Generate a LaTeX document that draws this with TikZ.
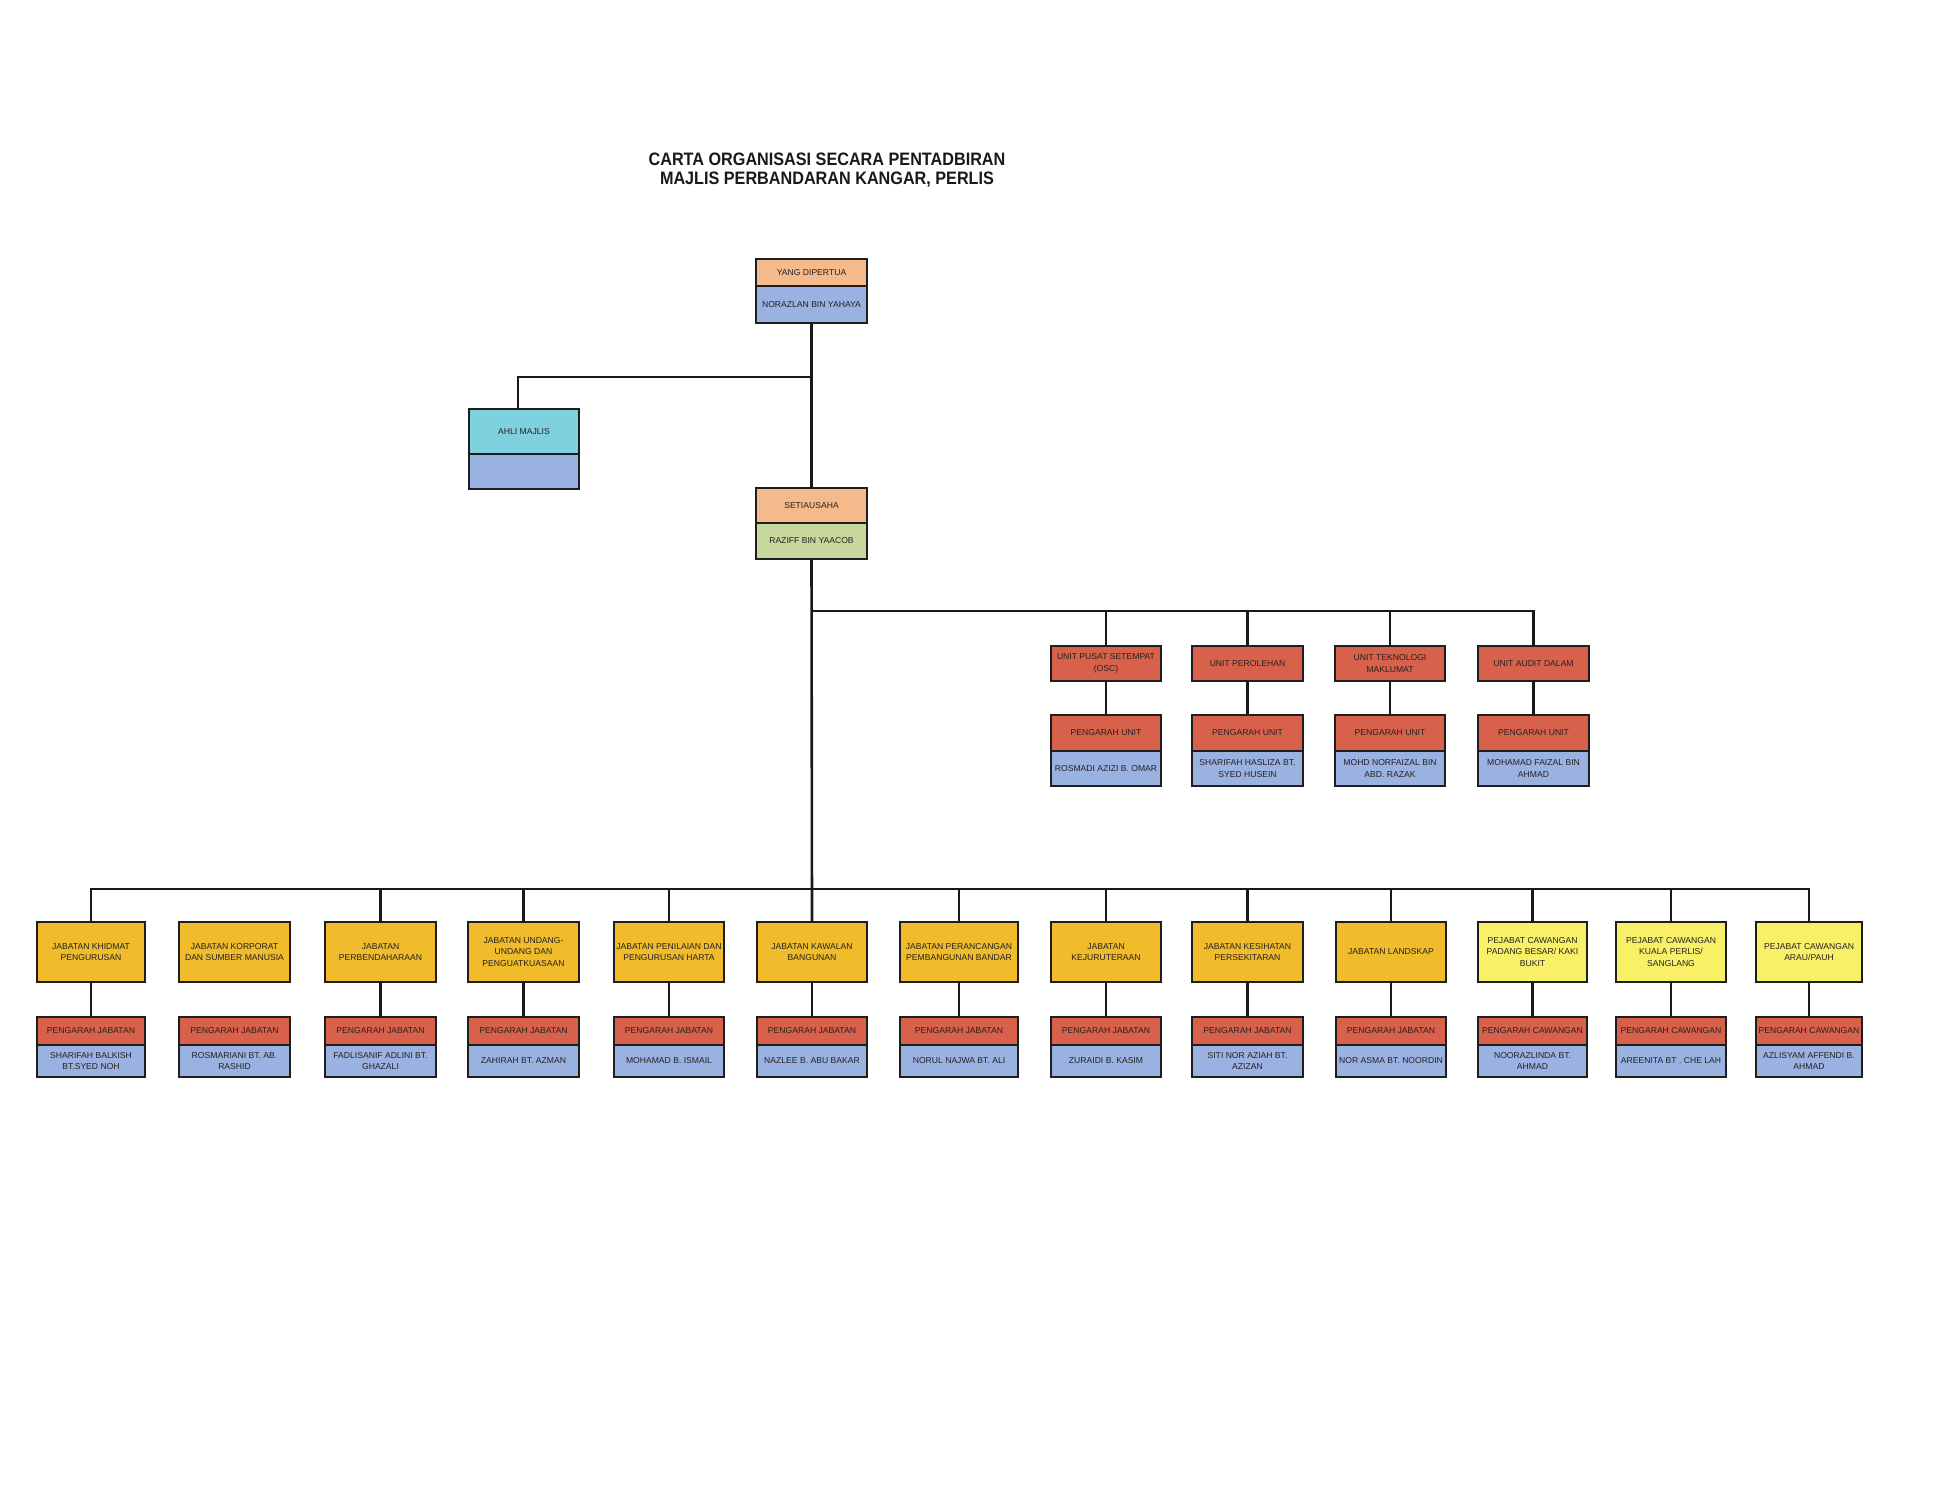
\documentclass[tikz,border=0pt]{standalone}
\usepackage{fontspec}
\setmainfont{Liberation Sans}
\newfontfamily\titlefont{Liberation Sans}[FakeStretch=0.9]
\definecolor{cPeach}{HTML}{F4BA8C}
\definecolor{cBlue}{HTML}{9AB2E2}
\definecolor{cCyan}{HTML}{7FD1DF}
\definecolor{cGreen}{HTML}{C6D89B}
\definecolor{cRed}{HTML}{D8614B}
\definecolor{cGold}{HTML}{F0BC2B}
\definecolor{cLemon}{HTML}{F8F168}
\definecolor{cInk}{HTML}{262020}
\definecolor{cBorder}{HTML}{1E1E1E}
\tikzset{
  cellbox/.style={draw=cBorder, line width=2.4pt, rectangle, inner sep=0pt, outer sep=0pt,
    align=center, text=cInk, font=\fontsize{8.6}{11.5}\selectfont},
  link/.style={draw=black!90, line width=2.6pt},
}
\newcommand\cell[7]{%
  \pgfmathsetmacro\cellW{#3-#2}\pgfmathsetmacro\cellH{#5-#4}%
  \pgfmathsetmacro\cellX{(#2+#3)/2}\pgfmathsetmacro\cellY{(#4+#5)/2}%
  \node[cellbox, fill=#6, minimum width=\cellW pt, minimum height=\cellH pt] (#1) at (\cellX,\cellY) {#7};}
% unit column: name, xl, xr, title, person
\newcommand\unitcol[5]{%
  \cell{#1T}{#2}{#3}{646}{681}{cRed}{#4}
  \cell{#1P}{#2}{#3}{715}{751}{cRed}{PENGARAH UNIT}
  \cell{#1N}{#2}{#3}{751}{786}{cBlue}{#5}}
% department column: name, xl, xr, fill, title, head title, person
\newcommand\deptcol[7]{%
  \cell{#1T}{#2}{#3}{922}{982}{#4}{#5}
  \cell{#1P}{#2}{#3}{1017}{1045}{cRed}{#6}
  \cell{#1N}{#2}{#3}{1045}{1077}{cBlue}{#7}}
\begin{document}
\begin{tikzpicture}[x=1pt,y=-1pt]
\fill[white] (0,0) rectangle (1950,1508);
\useasboundingbox (0,0) rectangle (1950,1508);

\node[align=center, font=\titlefont\bfseries\fontsize{18}{19.5}\selectfont, text=black!90] (title) at (827,170)
  {CARTA ORGANISASI SECARA PENTADBIRAN\\MAJLIS PERBANDARAN KANGAR, PERLIS};

% top level
\cell{yangT}{756}{867}{259}{286}{cPeach}{YANG DIPERTUA}
\cell{yangB}{756}{867}{286}{323}{cBlue}{NORAZLAN BIN YAHAYA}
\cell{ahliT}{469}{579}{409}{454}{cCyan}{AHLI MAJLIS}
\cell{ahliB}{469}{579}{454}{489}{cBlue}{}
\cell{setT}{756}{867}{488}{523}{cPeach}{SETIAUSAHA}
\cell{setB}{756}{867}{523}{559}{cGreen}{RAZIFF BIN YAACOB}

% units
\unitcol{ua}{1051}{1161}{UNIT PUSAT SETEMPAT\\(OSC)}{ROSMADI AZIZI B. OMAR}
\unitcol{ub}{1192}{1303}{UNIT PEROLEHAN}{SHARIFAH HASLIZA BT.\\SYED HUSEIN}
\unitcol{uc}{1335}{1445}{UNIT TEKNOLOGI\\MAKLUMAT}{MOHD NORFAIZAL BIN\\ABD. RAZAK}
\unitcol{ud}{1478}{1589}{UNIT AUDIT DALAM}{MOHAMAD FAIZAL BIN\\AHMAD}

% departments
\deptcol{da}{37}{145}{cGold}{JABATAN KHIDMAT\\PENGURUSAN}{PENGARAH JABATAN}{SHARIFAH BALKISH\\BT.SYED NOH}
\deptcol{db}{179}{290}{cGold}{JABATAN KORPORAT\\DAN SUMBER MANUSIA}{PENGARAH JABATAN}{ROSMARIANI BT. AB.\\RASHID}
\deptcol{dc}{325}{436}{cGold}{JABATAN\\PERBENDAHARAAN}{PENGARAH JABATAN}{FADLISANIF ADLINI BT.\\GHAZALI}
\deptcol{dd}{468}{579}{cGold}{JABATAN UNDANG-\\UNDANG DAN\\PENGUATKUASAAN}{PENGARAH JABATAN}{ZAHIRAH BT. AZMAN}
\deptcol{de}{614}{724}{cGold}{JABATAN PENILAIAN DAN\\PENGURUSAN HARTA}{PENGARAH JABATAN}{MOHAMAD B. ISMAIL}
\deptcol{df}{757}{867}{cGold}{JABATAN KAWALAN\\BANGUNAN}{PENGARAH JABATAN}{NAZLEE B. ABU BAKAR}
\deptcol{dg}{900}{1018}{cGold}{JABATAN PERANCANGAN\\PEMBANGUNAN BANDAR}{PENGARAH JABATAN}{NORUL NAJWA BT. ALI}
\deptcol{dh}{1051}{1161}{cGold}{JABATAN\\KEJURUTERAAN}{PENGARAH JABATAN}{ZURAIDI B. KASIM}
\deptcol{di}{1192}{1303}{cGold}{JABATAN KESIHATAN\\PERSEKITARAN}{PENGARAH JABATAN}{SITI NOR AZIAH BT.\\AZIZAN}
\deptcol{dj}{1336}{1446}{cGold}{JABATAN LANDSKAP}{PENGARAH JABATAN}{NOR ASMA BT. NOORDIN}
\deptcol{dk}{1478}{1587}{cLemon}{PEJABAT CAWANGAN\\PADANG BESAR/ KAKI\\BUKIT}{PENGARAH CAWANGAN}{NOORAZLINDA BT.\\AHMAD}
\deptcol{dl}{1616}{1726}{cLemon}{PEJABAT CAWANGAN\\KUALA PERLIS/\\SANGLANG}{PENGARAH CAWANGAN}{AREENITA BT . CHE LAH}
\deptcol{dm}{1756}{1862}{cLemon}{PEJABAT CAWANGAN\\ARAU/PAUH}{PENGARAH CAWANGAN}{AZLISYAM AFFENDI B.\\AHMAD}

% connectors
\coordinate (jAhli) at (811,377);
\coordinate (uBus) at (811,611);
\coordinate (dBus) at (811,889);
\draw[link] (yangB.south) -- (setT.north);
\draw[link] (jAhli) -| ([xshift=-6pt]ahliT.north);
\draw[link] (setB.south) -- (dfT.north);
\draw[link] (uBus) -| (udT.north);
\foreach \u in {ua,ub,uc}{\draw[link] (\u T.north) -- (\u T.north |- uBus);}
\foreach \u in {ua,ub,uc,ud}{\draw[link] (\u T.south) -- (\u P.north);}
\draw[link] (daT.north) |- (dBus) -| (dmT.north);
\foreach \d in {dc,dd,de,dg,dh,di,dj,dk,dl}{\draw[link] (\d T.north) -- (\d T.north |- dBus);}
\foreach \d in {da,dc,dd,de,df,dg,dh,di,dj,dk,dl,dm}{\draw[link] (\d T.south) -- (\d P.north);}
\end{tikzpicture}
\end{document}
